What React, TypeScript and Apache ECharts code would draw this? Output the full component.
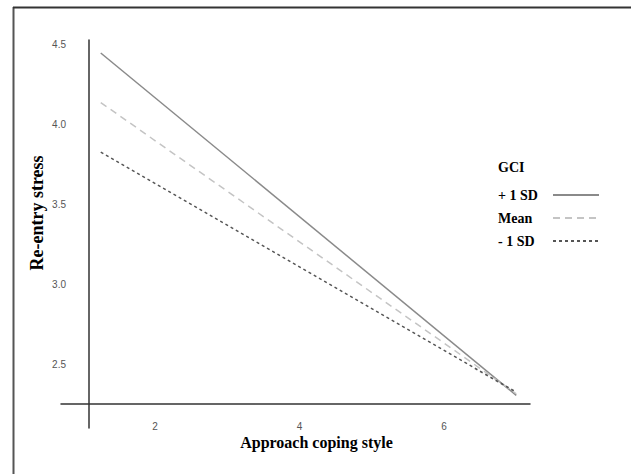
import React, { useEffect, useRef } from "react";
import * as echarts from "echarts";

const xValues = [1.25, 7.0];
const plusSD = [4.45, 2.31];
const meanVals = [4.14, 2.32];
const minusSD = [3.83, 2.33];
const seriesNames = ["+ 1 SD", "Mean", "- 1 SD"];
const xTicks = [2, 4, 6];
const yTicks = [2.5, 3.0, 3.5, 4.0, 4.5];

export default function App() {
  const ref = useRef<HTMLDivElement>(null);
  useEffect(() => {
    if (!ref.current) return;
    const chart = echarts.init(ref.current, null, { renderer: "svg" });
    const toPairs = (ys: number[]) => xValues.map((x, i) => [x, ys[i]]);
    const serif = "'Liberation Serif', 'Times New Roman', serif";
    const sans = "'Liberation Sans', Arial, sans-serif";
    chart.setOption({
      animation: false,
      backgroundColor: "#ffffff",
      grid: { left: 61, right: 101, top: 40, bottom: 46, containLabel: false },
      xAxis: {
        type: "value",
        min: 0.7,
        max: 7.19,
        offset: -24,
        name: "Approach coping style",
        nameLocation: "middle",
        nameGap: 30,
        nameMoveOverlap: false,
        nameTextStyle: {
          fontFamily: serif,
          fontWeight: "bold",
          fontSize: 16,
          color: "#000",
          padding: [0, 0, 0, 42],
        },
        axisLine: { show: true, lineStyle: { color: "#333", width: 1.5 } },
        axisTick: { show: false },
        splitLine: { show: false },
        axisLabel: {
          customValues: xTicks,
          margin: 17,
          fontFamily: sans,
          fontSize: 10,
          color: "#555",
        },
      },
      yAxis: {
        type: "value",
        min: 2.106,
        max: 4.531,
        offset: -28,
        name: "Re-entry stress",
        nameLocation: "middle",
        nameGap: 43,
        nameRotate: 90,
        nameMoveOverlap: false,
        nameTextStyle: {
          fontFamily: serif,
          fontWeight: "bold",
          fontSize: 18,
          color: "#000",
          padding: [0, 0, 0, 42],
        },
        axisLine: { show: true, lineStyle: { color: "#333", width: 1.5 } },
        axisTick: { show: false },
        splitLine: { show: false },
        axisLabel: {
          customValues: yTicks,
          formatter: (v: number) => v.toFixed(1),
          margin: 23,
          fontFamily: sans,
          fontSize: 10,
          color: "#555",
        },
      },
      legend: {
        orient: "vertical",
        left: 498,
        top: 188,
        padding: 0,
        align: "right",
        itemWidth: 46,
        itemHeight: 14,
        itemGap: 9,
        data: seriesNames,
        itemStyle: { opacity: 0 },
        formatter: (name: string) => `{t|${name}}`,
        textStyle: {
          fontFamily: serif,
          fontWeight: "bold",
          fontSize: 14,
          color: "#000",
          rich: {
            t: {
              width: 50,
              align: "left",
              fontFamily: serif,
              fontWeight: "bold",
              fontSize: 14,
              color: "#000",
            },
          },
        },
      },
      graphic: [
        {
          type: "text",
          left: 498,
          top: 160,
          style: {
            text: "GCI",
            fontFamily: serif,
            fontWeight: "bold",
            fontSize: 14,
            fill: "#000",
          },
        },
        {
          type: "line",
          shape: { x1: 13.5, y1: 7, x2: 13.5, y2: 474 },
          style: { stroke: "#555", lineWidth: 2 },
        },
        {
          type: "line",
          shape: { x1: 13, y1: 7.5, x2: 631, y2: 7.5 },
          style: { stroke: "#333", lineWidth: 2 },
        },
      ],
      series: [
        {
          name: seriesNames[0],
          type: "line",
          symbol: "none",
          data: toPairs(plusSD),
          lineStyle: { color: "#8a8a8a", width: 1.5, type: "solid" },
          itemStyle: { color: "#8a8a8a" },
        },
        {
          name: seriesNames[1],
          type: "line",
          symbol: "none",
          data: toPairs(meanVals),
          lineStyle: { color: "#c4c4c4", width: 1.5, type: [7, 5] },
          itemStyle: { color: "#c4c4c4" },
        },
        {
          name: seriesNames[2],
          type: "line",
          symbol: "none",
          data: toPairs(minusSD),
          lineStyle: { color: "#555", width: 1.5, type: [3, 3] },
          itemStyle: { color: "#555" },
        },
      ],
    });
    return () => chart.dispose();
  }, []);
  return (
    <div
      ref={ref}
      style={{ position: "fixed", left: 0, top: 0, width: 631, height: 474 }}
    />
  );
}
